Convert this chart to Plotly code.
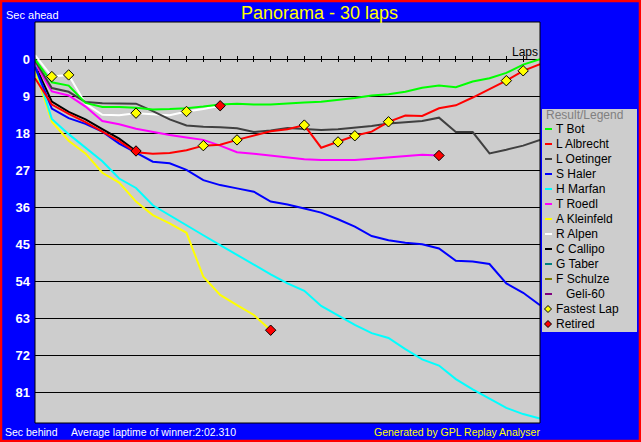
import plotly.graph_objects as go

# ---------------- data (seconds behind leader, per lap 0..30) ----------------
laps_total = 30
drivers = ["T Bot", "L Albrecht", "L Oetinger", "S Haler", "H Marfan", "T Roedl",
           "A Kleinfeld", "R Alpen", "C Callipo", "G Taber", "F Schulze", "Geli-60"]
colors = ["#00FF00", "#FF0000", "#404040", "#0000FF", "#00FFFF", "#FF00FF",
          "#FFFF00", "#FFFFFF", "#000000", "#008080", "#808000", "#800080"]

t_bot = [0.0, 5.6, 6.4, 10.6, 11.6, 11.6, 11.8, 12.2, 12.1, 11.9, 11.5, 11.0, 10.8, 11.0,
         11.0, 10.7, 10.5, 10.3, 9.9, 9.4, 8.8, 8.5, 7.9, 6.9, 6.4, 6.8, 5.4, 4.6, 3.3, 1.3, 0.0]
l_albrecht = [4.6, 11.0, 13.3, 15.3, 17.6, 19.9, 22.6, 23.0, 22.8, 22.1, 21.0, 20.8, 19.6,
              18.6, 17.5, 17.0, 16.0, 21.5, 20.1, 18.6, 17.6, 15.2, 13.7, 13.8, 11.9, 11.2,
              9.3, 7.3, 5.2, 2.8, 1.2]
l_oetinger = [0.3, 7.0, 7.9, 10.4, 10.7, 10.7, 10.8, 12.6, 14.6, 16.1, 16.4, 16.5, 16.8,
              17.7, 17.3, 16.7, 16.9, 17.2, 17.0, 16.6, 16.2, 15.6, 15.3, 15.0, 14.2, 17.7,
              17.7, 22.9, 22.0, 21.0, 19.6]
s_haler = [1.8, 12.0, 14.3, 15.7, 17.6, 20.5, 22.7, 24.9, 25.3, 26.9, 29.4, 30.6, 31.4,
           32.2, 34.6, 35.3, 36.3, 37.3, 38.9, 40.7, 43.0, 44.0, 44.6, 45.0, 46.0, 49.0,
           49.2, 49.8, 54.5, 56.8, 59.8]
h_marfan = [1.5, 14.5, 18.2, 21.5, 24.8, 29.0, 31.3, 35.5, 38.0, 40.3, 42.8, 45.2, 47.6,
            50.0, 52.3, 54.5, 56.3, 60.0, 62.3, 64.6, 66.6, 67.8, 70.5, 73.0, 74.5, 77.8,
            80.3, 82.5, 84.8, 86.3, 87.4]
t_roedl = [1.0, 7.8, 8.8, 11.5, 15.0, 15.8, 16.9, 17.7, 18.4, 19.0, 19.6, 21.0, 22.6, 23.0,
           23.4, 23.8, 24.3, 24.5, 24.5, 24.5, 24.2, 23.9, 23.5, 23.2, 23.4]
a_kleinfeld = [2.6, 15.2, 19.8, 22.9, 27.6, 30.0, 34.6, 37.9, 39.9, 42.2, 52.9, 57.3, 59.8,
               62.2, 65.9]
r_alpen = [-1.0, 4.2, 3.8, 10.8, 13.5, 13.6, 13.1, 13.3, 13.6, 12.7, 12.1, 11.3]
c_callipo = [1.4, 10.3, 12.8, 14.6, 17.0, 19.3, 22.3]
g_taber = []
f_schulze = []
geli_60 = []

# fastest-lap markers (driver, laps) and retirements (driver retires at last lap of series)
fastest_alpen = [1, 2, 6, 9]
fastest_albrecht = [10, 12, 16, 18, 19, 21, 28, 29]
retired = ["C Callipo", "R Alpen", "A Kleinfeld", "T Roedl"]

y_ticks = [0, 9, 18, 27, 36, 45, 54, 63, 72, 81]
lap_ticks = list(range(1, 30))

series = [t_bot, l_albrecht, l_oetinger, s_haler, h_marfan, t_roedl,
          a_kleinfeld, r_alpen, c_callipo, g_taber, f_schulze, geli_60]
by_name = dict(zip(drivers, series))

# ---------------- geometry (pixels) ----------------
W, H = 641, 442
L, R, T, B = 35, 540, 22, 423


def px(x):
    return (x - L) / (R - L)


def py(y):
    return (B - y) / (B - T)


FONT = "Liberation Sans, Arial, sans-serif"

fig = go.Figure()

# lines, drawn in reverse so first driver is on top
for name, col, ys in reversed(list(zip(drivers, colors, series))):
    fig.add_trace(go.Scatter(x=list(range(len(ys))), y=ys, mode="lines",
                             line=dict(color=col, width=2), name=name,
                             showlegend=False, hoverinfo="skip"))

# fastest lap markers
fl_x, fl_y = [], []
for name, lst in (("R Alpen", fastest_alpen), ("L Albrecht", fastest_albrecht)):
    for lap in lst:
        fl_x.append(lap)
        fl_y.append(by_name[name][lap])
fig.add_trace(go.Scatter(x=fl_x, y=fl_y, mode="markers", showlegend=False,
                         marker=dict(symbol="diamond", size=8, color="#FFFF00",
                                     line=dict(color="black", width=1))))
# retired markers
rt_x = [len(by_name[n]) - 1 for n in retired]
rt_y = [by_name[n][-1] for n in retired]
fig.add_trace(go.Scatter(x=rt_x, y=rt_y, mode="markers", showlegend=False,
                         marker=dict(symbol="diamond", size=8, color="#FF0000",
                                     line=dict(color="black", width=1))))

shapes = []
annotations = []

# plot frame
shapes.append(dict(type="rect", xref="paper", yref="paper", x0=0, x1=1, y0=0, y1=1,
                   line=dict(color="black", width=1), layer="above"))
# outer red border
shapes.append(dict(type="rect", xref="paper", yref="paper",
                   x0=px(1), x1=px(W - 1), y0=py(H - 1), y1=py(1),
                   line=dict(color="#FF0000", width=2.5), layer="above"))

# legend box
LX0, LX1, LY0, LY1 = 542, 637, 109, 332
shapes.append(dict(type="rect", xref="paper", yref="paper",
                   x0=px(LX0), x1=px(LX1), y0=py(LY1), y1=py(LY0),
                   fillcolor="#CDCDCD", line=dict(width=0), layer="below"))
annotations.append(dict(x=px(545), y=py(115.5), xref="paper", yref="paper",
                        text="Result/Legend", showarrow=False, xanchor="left",
                        yanchor="middle", font=dict(family=FONT, size=12, color="#808080")))
for i, (name, col) in enumerate(zip(drivers, colors)):
    yy = 129 + 15 * i
    shapes.append(dict(type="line", xref="paper", yref="paper",
                       x0=px(545), x1=px(552), y0=py(yy), y1=py(yy),
                       line=dict(color=col, width=2)))
    label = ("\u00a0\u00a0\u00a0" + name) if name == "Geli-60" else name
    annotations.append(dict(x=px(555), y=py(yy), xref="paper", yref="paper",
                            text=label, showarrow=False, xanchor="left", yanchor="middle",
                            font=dict(family=FONT, size=12, color="black")))
for j, (lbl, fill) in enumerate((("Fastest Lap", "#FFFF00"), ("Retired", "#FF0000"))):
    yy = 129 + 15 * (len(drivers) + j)
    cx, r = 548, 3.5
    path = "M {} {} L {} {} L {} {} L {} {} Z".format(
        px(cx - r), py(yy), px(cx), py(yy - r), px(cx + r), py(yy), px(cx), py(yy + r))
    shapes.append(dict(type="path", xref="paper", yref="paper", path=path,
                       fillcolor=fill, line=dict(color="black", width=1)))
    annotations.append(dict(x=px(555), y=py(yy), xref="paper", yref="paper",
                            text=lbl, showarrow=False, xanchor="left", yanchor="middle",
                            font=dict(family=FONT, size=12, color="black")))

# texts
annotations += [
    dict(x=px(319), y=py(13), text="Panorama - 30 laps", font=dict(family=FONT, size=18, color="#FFFF00"),
         xanchor="center", yanchor="middle"),
    dict(x=px(5), y=py(15), text="Sec ahead", font=dict(family=FONT, size=11, color="white"),
         xanchor="left", yanchor="middle"),
    dict(x=px(4), y=py(431.5), text="Sec behind", font=dict(family=FONT, size=10.5, color="white"),
         xanchor="left", yanchor="middle"),
    dict(x=px(70), y=py(431.5), text="Average laptime of winner:2:02.310",
         font=dict(family=FONT, size=10.5, color="white"), xanchor="left", yanchor="middle"),
    dict(x=px(541), y=py(431.5), text="Generated by GPL Replay Analyser",
         font=dict(family=FONT, size=10.5, color="#FFFF00"), xanchor="right", yanchor="middle"),
    dict(x=px(539), y=py(52), text="Laps", font=dict(family=FONT, size=12, color="black"),
         xanchor="right", yanchor="middle"),
]
for a in annotations:
    a.setdefault("xref", "paper")
    a.setdefault("yref", "paper")
    a["showarrow"] = False
    a["borderpad"] = 0

y_top = (T - 59.3) / 4.111
y_bot = (B - 59.3) / 4.111

fig.update_layout(
    width=W, height=H,
    margin=dict(l=L, r=W - R, t=T, b=H - B, pad=0),
    paper_bgcolor="#0000FF",
    plot_bgcolor="#CDCDCD",
    showlegend=False,
    shapes=shapes,
    annotations=annotations,
    xaxis=dict(range=[0, laps_total], anchor="free", position=py(62), side="top",
               tickmode="array", tickvals=lap_ticks, ticks="outside", ticklen=6,
               tickcolor="black", tickwidth=1, showticklabels=False, showgrid=False,
               zeroline=False, showline=False, fixedrange=True),
    yaxis=dict(range=[y_bot, y_top], tickmode="array", tickvals=y_ticks,
               showgrid=True, gridcolor="black", gridwidth=1, zeroline=False,
               showline=False, ticks="", ticklabelstandoff=4,
               tickfont=dict(family=FONT, size=13, color="white", weight="bold"),
               fixedrange=True),
)

fig.write_html("out.html", config={"displayModeBar": False},
               post_script="document.body.style.margin='0px';"
                           "document.body.style.overflow='hidden';")
